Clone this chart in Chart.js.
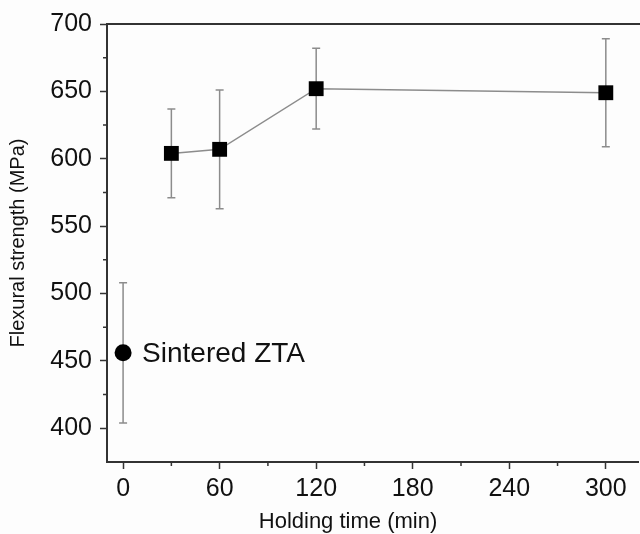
<!DOCTYPE html>
<html>
<head>
<meta charset="utf-8">
<script src="https://cdn.jsdelivr.net/npm/chart.js@4.4.1/dist/chart.umd.min.js"></script>
<style>
  html, body { margin: 0; padding: 0; background: #fdfdfd; }
  #wrap { width: 640px; height: 534px; }
</style>
</head>
<body>
<div id="wrap"><canvas id="chart" width="640" height="534"></canvas></div>
<script>
// holding time series (hot pressed)
const holdTimes = [30, 60, 120, 300];
const strength = [604, 607, 652, 649];
const strengthErr = [33, 44, 30, 40];

// sintered reference sample
const sinteredTime = [0];
const sinteredStrength = [456];
const sinteredErr = [52];
const sinteredLabel = 'Sintered ZTA';

const xTickValues = [0, 60, 120, 180, 240, 300];
const xMinorValues = [30, 90, 150, 210, 270];
const yTickValues = [400, 450, 500, 550, 600, 650, 700];
const yMinorValues = [425, 475, 525, 575, 625, 675];
const xTitle = 'Holding time (min)';

const FONT = "'Liberation Sans', Arial, sans-serif";

// error bars, minor ticks, top frame, x title and the annotation
const extras = {
	id: 'extras',
	beforeDatasetsDraw(chart) {
		const ctx = chart.ctx;
		const xs = chart.scales.x, ys = chart.scales.y;
		ctx.save();
		ctx.strokeStyle = '#8c8c8c';
		ctx.lineWidth = 1.5;
		chart.data.datasets.forEach(ds => {
			ds.data.forEach((p, i) => {
				const e = ds.errors[i];
				const px = xs.getPixelForValue(p.x);
				const top = ys.getPixelForValue(p.y + e);
				const bot = ys.getPixelForValue(p.y - e);
				ctx.beginPath();
				ctx.moveTo(px, top); ctx.lineTo(px, bot);
				ctx.moveTo(px - 4, top); ctx.lineTo(px + 4, top);
				ctx.moveTo(px - 4, bot); ctx.lineTo(px + 4, bot);
				ctx.stroke();
			});
		});
		ctx.restore();
	},
	afterDraw(chart) {
		const ctx = chart.ctx;
		const a = chart.chartArea;
		const xs = chart.scales.x, ys = chart.scales.y;
		ctx.save();
		ctx.strokeStyle = '#333';
		ctx.lineWidth = 2;
		ctx.beginPath();
		ctx.moveTo(a.left - 1, a.top); ctx.lineTo(640, a.top);
		ctx.stroke();
		ctx.lineWidth = 1.5;
		ctx.beginPath();
		xMinorValues.forEach(v => {
			const px = xs.getPixelForValue(v);
			ctx.moveTo(px, a.bottom); ctx.lineTo(px, a.bottom + 4);
		});
		yMinorValues.forEach(v => {
			const py = ys.getPixelForValue(v);
			ctx.moveTo(a.left, py); ctx.lineTo(a.left - 4, py);
		});
		ctx.stroke();

		ctx.fillStyle = '#111';
		ctx.textBaseline = 'middle';
		ctx.textAlign = 'center';
		ctx.font = '22px ' + FONT;
		ctx.fillText(xTitle, 348, 522);

		ctx.font = '28px ' + FONT;
		ctx.textAlign = 'left';
		ctx.fillText(sinteredLabel,
			xs.getPixelForValue(sinteredTime[0]) + 19,
			ys.getPixelForValue(sinteredStrength[0]) + 1);
		ctx.restore();
	}
};

const ctx = document.getElementById('chart').getContext('2d');
new Chart(ctx, {
	type: 'scatter',
	data: {
		datasets: [
			{
				label: 'Hot pressed',
				data: holdTimes.map((t, i) => ({ x: t, y: strength[i] })),
				errors: strengthErr,
				showLine: true,
				borderColor: '#8c8c8c',
				borderWidth: 1.5,
				pointStyle: 'rect',
				pointRadius: 10.5,
				pointBackgroundColor: '#000',
				pointBorderColor: '#000',
				pointBorderWidth: 0,
			},
			{
				label: sinteredLabel,
				data: sinteredTime.map((t, i) => ({ x: t, y: sinteredStrength[i] })),
				errors: sinteredErr,
				pointStyle: 'circle',
				pointRadius: 8.5,
				pointBackgroundColor: '#000',
				pointBorderColor: '#000',
				pointBorderWidth: 0,
			},
		],
	},
	options: {
		responsive: false,
		animation: false,
		devicePixelRatio: 1,
		layout: { autoPadding: false, padding: { top: 24, right: 2, left: 0, bottom: 0 } },
		plugins: { legend: { display: false }, tooltip: { enabled: false } },
		scales: {
			x: {
				type: 'linear',
				min: -10,
				max: 320,
				afterBuildTicks: s => { s.ticks = xTickValues.map(v => ({ value: v })); },
				afterFit: s => { s.height = 72; s.paddingLeft = 0; s.paddingRight = 0; },
				grid: { drawOnChartArea: false, tickLength: 7, color: '#333', tickWidth: 1.5 },
				border: { display: true, color: '#333', width: 2 },
				ticks: { color: '#111', font: { family: FONT, size: 25 }, padding: 5, maxRotation: 0 },
			},
			y: {
				type: 'linear',
				min: 375,
				max: 700,
				afterBuildTicks: s => { s.ticks = yTickValues.map(v => ({ value: v })); },
				afterFit: s => { s.width = 107; s.paddingTop = 0; s.paddingBottom = 0; },
				grid: { drawOnChartArea: false, tickLength: 7, color: '#333', tickWidth: 1.5 },
				border: { display: true, color: '#333', width: 2 },
				ticks: { color: '#111', font: { family: FONT, size: 25 }, padding: 8 },
				title: {
					display: true,
					text: 'Flexural strength (MPa)',
					color: '#111',
					font: { family: FONT, size: 20 },
					padding: { top: 6, bottom: 0 },
				},
			},
		},
	},
	plugins: [extras],
});
</script>
</body>
</html>
